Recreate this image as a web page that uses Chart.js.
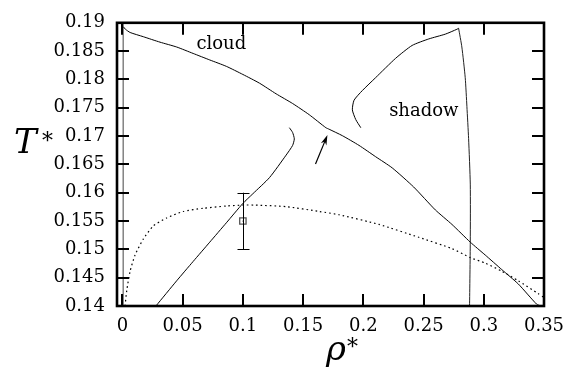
<!DOCTYPE html>
<html><head><meta charset="utf-8">
<script src="https://cdn.jsdelivr.net/npm/chart.js@4.4.1/dist/chart.umd.min.js"></script>
<style>html,body{margin:0;padding:0;background:#fff}#wrap{width:576px;height:376px}</style>
</head><body><div id="wrap"><canvas id="c" width="576" height="376"></canvas></div>
<script>
// ---- data ----
const xTicks = [0, 0.05, 0.1, 0.15, 0.2, 0.25, 0.3, 0.35];
const xTickLabels = ['0', '0.05', '0.1', '0.15', '0.2', '0.25', '0.3', '0.35'];
const yTicks = [0.14, 0.145, 0.15, 0.155, 0.16, 0.165, 0.17, 0.175, 0.18, 0.185, 0.19];
const yTickLabels = ['0.14', '0.145', '0.15', '0.155', '0.16', '0.165', '0.17', '0.175', '0.18', '0.185', '0.19'];

const cloudRho = [0.0008, 0.0025, 0.0064, 0.0174, 0.0312, 0.0450, 0.0587, 0.0725, 0.0863, 0.1000, 0.1138, 0.1276, 0.1413, 0.1551, 0.1689, 0.1716, 0.1826, 0.1964, 0.2102, 0.2240, 0.2418, 0.2598, 0.2736, 0.2888, 0.3012, 0.3149, 0.3287, 0.3438, 0.3475];
const cloudT   = [0.1893, 0.18886, 0.18829, 0.18754, 0.18658, 0.18573, 0.18459, 0.18344, 0.18231, 0.18088, 0.17934, 0.17746, 0.17575, 0.17377, 0.17148, 0.17121, 0.17007, 0.16836, 0.16636, 0.16438, 0.16101, 0.15696, 0.15440, 0.15127, 0.14900, 0.14644, 0.14388, 0.14034, 0.1400];

const cloudLowRho = [0.0006, 0.0006];
const cloudLowT   = [0.14, 0.19];

const shadowLowRho = [0.0278, 0.0450, 0.0587, 0.0725, 0.0863, 0.1000, 0.1083, 0.1221, 0.1359, 0.1413, 0.1427, 0.1413, 0.1386];
const shadowLowT   = [0.1400, 0.14444, 0.14786, 0.15127, 0.15469, 0.15811, 0.15982, 0.16267, 0.16664, 0.16835, 0.16950, 0.17063, 0.17148];

const shadowUpRho = [0.1979, 0.1937, 0.1909, 0.1923, 0.1992, 0.2102, 0.2268, 0.2405, 0.2543, 0.2681, 0.2777, 0.2791];
const shadowUpT   = [0.17148, 0.17292, 0.17463, 0.17633, 0.17804, 0.18031, 0.18373, 0.18600, 0.18715, 0.18800, 0.18886, 0.18903];

const shadowRightRho = [0.2791, 0.2818, 0.2846, 0.2860, 0.2874, 0.2888, 0.2888, 0.2882];
const shadowRightT   = [0.18903, 0.18573, 0.18031, 0.17519, 0.16955, 0.16152, 0.15127, 0.1400];

const dottedRho = [0.0022, 0.0036, 0.0064, 0.0105, 0.0174, 0.0256, 0.0367, 0.0504, 0.0669, 0.0863, 0.1000, 0.1097, 0.1359, 0.1634, 0.1799, 0.2130, 0.2460, 0.2736, 0.2888, 0.3012, 0.3149, 0.3287, 0.3453, 0.3500];
const dottedT   = [0.1400, 0.14273, 0.14615, 0.14900, 0.15184, 0.15413, 0.15554, 0.15669, 0.15725, 0.15765, 0.15782, 0.15782, 0.15754, 0.15669, 0.15611, 0.15440, 0.15213, 0.15013, 0.14854, 0.14757, 0.14615, 0.14444, 0.14217, 0.14150];

const simRho = [0.1];
const simT = [0.155];
const simTLow = [0.150];
const simTHigh = [0.160];

const arrowFrom = [0.1603, 0.16506];
const arrowTo = [0.1702, 0.17018];

const notes = [
  { text: 'cloud', rho: 0.0821, T: 0.18544 },
  { text: 'shadow', rho: 0.2502, T: 0.17348 }
];

// ---- helpers ----
const pts = (xs, ys) => xs.map((x, i) => ({ x: x, y: ys[i] }));
const line = (xs, ys, extra) => Object.assign({
  data: pts(xs, ys), showLine: true, pointRadius: 0, borderColor: '#000',
  borderWidth: 1, fill: false, tension: 0.2
}, extra || {});

const SERIF = '"DejaVu Serif", "Liberation Serif", serif';

const decor = {
  id: 'decor',
  afterDatasetsDraw(chart) {
    const ctx = chart.ctx;
    const xs = chart.scales.x, ys = chart.scales.y;
    ctx.save();
    // error bar
    ctx.strokeStyle = '#000'; ctx.lineWidth = 1;
    simRho.forEach((r, i) => {
      const px = Math.round(xs.getPixelForValue(r)) + 0.5;
      const y1 = ys.getPixelForValue(simTLow[i]), y2 = ys.getPixelForValue(simTHigh[i]);
      ctx.beginPath();
      ctx.moveTo(px, y1); ctx.lineTo(px, y2);
      ctx.moveTo(px - 6, Math.round(y1) + 0.5); ctx.lineTo(px + 6, Math.round(y1) + 0.5);
      ctx.moveTo(px - 6, Math.round(y2) + 0.5); ctx.lineTo(px + 6, Math.round(y2) + 0.5);
      ctx.stroke();
    });
    // arrow
    const ax1 = xs.getPixelForValue(arrowFrom[0]), ay1 = ys.getPixelForValue(arrowFrom[1]);
    const ax2 = xs.getPixelForValue(arrowTo[0]), ay2 = ys.getPixelForValue(arrowTo[1]);
    const ang = Math.atan2(ay2 - ay1, ax2 - ax1);
    const hl = 10, hw = 3;
    ctx.beginPath(); ctx.lineWidth = 1.2;
    ctx.moveTo(ax1, ay1); ctx.lineTo(ax2 - Math.cos(ang) * 6, ay2 - Math.sin(ang) * 6); ctx.stroke();
    ctx.beginPath();
    ctx.moveTo(ax2, ay2);
    ctx.lineTo(ax2 - Math.cos(ang) * hl - Math.sin(ang) * hw, ay2 - Math.sin(ang) * hl + Math.cos(ang) * hw);
    ctx.lineTo(ax2 - Math.cos(ang) * hl * 0.7, ay2 - Math.sin(ang) * hl * 0.7);
    ctx.lineTo(ax2 - Math.cos(ang) * hl + Math.sin(ang) * hw, ay2 - Math.sin(ang) * hl - Math.cos(ang) * hw);
    ctx.closePath(); ctx.fillStyle = '#000'; ctx.fill();
    // notes
    ctx.font = 'normal 18px ' + SERIF; ctx.fillStyle = '#000';
    ctx.textAlign = 'center'; ctx.textBaseline = 'alphabetic';
    notes.forEach(n => ctx.fillText(n.text, xs.getPixelForValue(n.rho), ys.getPixelForValue(n.T)));
    ctx.restore();
  },
  afterDraw(chart) {
    const ctx = chart.ctx, a = chart.chartArea;
    const xs = chart.scales.x, ys = chart.scales.y;
    ctx.save();
    // inward ticks
    ctx.strokeStyle = '#000'; ctx.lineWidth = 2;
    const tl = 12;
    ctx.beginPath();
    xs.ticks.forEach(t => {
      const px = Math.round(xs.getPixelForValue(t.value));
      ctx.moveTo(px, a.bottom); ctx.lineTo(px, a.bottom - tl);
      ctx.moveTo(px, a.top); ctx.lineTo(px, a.top + tl);
    });
    ys.ticks.forEach(t => {
      const py = Math.round(ys.getPixelForValue(t.value));
      ctx.moveTo(a.left, py); ctx.lineTo(a.left + tl, py);
      ctx.moveTo(a.right, py); ctx.lineTo(a.right - tl, py);
    });
    ctx.stroke();
    // frame
    ctx.lineWidth = 2.6;
    ctx.strokeRect(a.left, a.top, a.right - a.left, a.bottom - a.top);
    // axis titles
    ctx.fillStyle = '#000'; ctx.textAlign = 'left'; ctx.textBaseline = 'alphabetic';
    ctx.font = 'italic 34px ' + SERIF;
    ctx.fillText('T', a.left - 103, a.top + 130);
    ctx.font = 'normal 22px ' + SERIF;
    ctx.fillText('*', a.left - 75, a.top + 125);
    ctx.font = 'italic 34px ' + SERIF;
    ctx.fillText('\u03C1', a.left + 209, a.bottom + 54);
    ctx.font = 'normal 22px ' + SERIF;
    ctx.fillText('*', a.left + 230, a.bottom + 48);
    ctx.restore();
  }
};

new Chart(document.getElementById('c').getContext('2d'), {
  type: 'scatter',
  data: {
    datasets: [
      line(cloudRho, cloudT),
      line(cloudLowRho, cloudLowT, { tension: 0, borderColor: '#444' }),
      line(shadowLowRho, shadowLowT),
      line(shadowUpRho, shadowUpT),
      line(shadowRightRho, shadowRightT, { borderColor: '#222' }),
      line(dottedRho, dottedT, { borderDash: [1.6, 3], borderWidth: 1.2 }),
      { data: pts(simRho, simT), showLine: false, pointStyle: 'rect', pointRadius: 4.5,
        borderColor: '#555', backgroundColor: 'rgba(0,0,0,0)', borderWidth: 1.3 },
      { data: pts(simRho, simT), showLine: false, pointStyle: 'circle', pointRadius: 0.6,
        borderColor: '#555', backgroundColor: '#555', borderWidth: 0 }
    ]
  },
  options: {
    responsive: false, animation: false, events: [],
    layout: { padding: { left: 0, top: 13, right: 32, bottom: 0 } },
    plugins: { legend: { display: false }, tooltip: { enabled: false } },
    scales: {
      x: {
        type: 'linear', min: -0.0045, max: 0.35,
        afterBuildTicks: s => { s.ticks = xTicks.map(v => ({ value: v })); },
        afterFit: s => { s.height = 70; },
        grid: { display: false, drawTicks: false }, border: { display: false },
        ticks: { padding: 10, color: '#000', maxRotation: 0, autoSkip: false,
          font: { family: SERIF, size: 18 },
          callback: (v, i) => xTickLabels[i] }
      },
      y: {
        type: 'linear', min: 0.14, max: 0.19,
        afterBuildTicks: s => { s.ticks = yTicks.map(v => ({ value: v })); },
        afterFit: s => { s.width = 117; },
        grid: { display: false, drawTicks: false }, border: { display: false },
        ticks: { padding: 12, color: '#000', autoSkip: false,
          font: { family: SERIF, size: 18 },
          callback: (v, i) => yTickLabels[i] }
      }
    }
  },
  plugins: [decor]
});
</script>
</body></html>
